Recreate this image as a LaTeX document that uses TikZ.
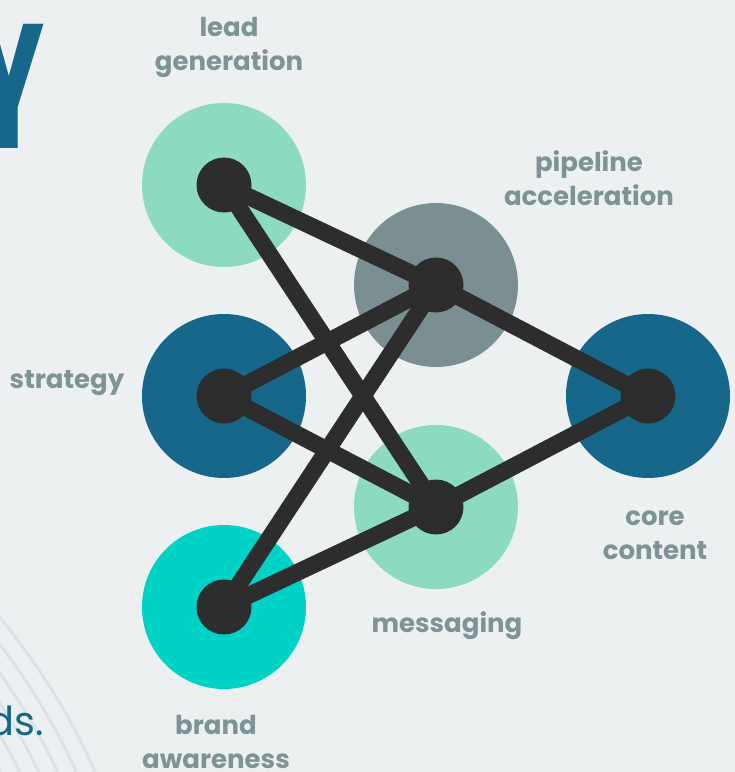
\documentclass[tikz,border=0pt]{standalone}
\usepackage{fontspec}
\setmainfont{Poppins}
\definecolor{bgcol}{HTML}{ECF0F1}
\definecolor{leadgreen}{HTML}{8DDBBF}
\definecolor{pipegray}{HTML}{7B8F93}
\definecolor{deepblue}{HTML}{17678A}
\definecolor{brandcyan}{HTML}{00D2C5}
\definecolor{hubdark}{HTML}{2D2D2D}
\definecolor{labelgray}{HTML}{7E9396}
\definecolor{arccol}{HTML}{DCE3E5}
\begin{document}
\begin{tikzpicture}[x=1pt,y=-1pt,
  lbl/.style={font=\fontsize{26}{34}\selectfont\bfseries, text=labelgray, align=center, inner sep=0pt, anchor=base},
  disc/.style={circle, minimum size=164pt, inner sep=0pt, draw=none},
  hub/.style={circle, fill=hubdark, minimum size=55pt, inner sep=0pt},
  link/.style={draw=hubdark, line width=17pt},
  arcline/.style={draw=arccol, line width=3pt}]
\useasboundingbox (0,0) rectangle (735,772);
\clip (0,0) rectangle (735,772);
\fill[bgcol] (0,0) rectangle (735,772);
% faint background arcs
\foreach \r in {570,587,604,621,638,655}
  \draw[arcline] (-505,1035) circle[radius=\r];
% title fragments
\node[font=\fontsize{177}{177}\selectfont\bfseries, text=deepblue, anchor=base east, inner sep=0pt, xscale=0.6] (bigY) at (45,148) {Y};
\node[font=\fontsize{40}{40}\selectfont, text=deepblue, anchor=base east, inner sep=0pt] (dsText) at (44,735) {ds.};
% discs
\node[disc, fill=leadgreen] (lead) at (224,185) {};
\node[disc, fill=pipegray] (pipe) at (436,285) {};
\node[disc, fill=deepblue] (strat) at (224,396) {};
\node[disc, fill=deepblue] (core) at (648,396) {};
\node[disc, fill=leadgreen] (mess) at (436,507) {};
\node[disc, fill=brandcyan] (brand) at (224,607) {};
% links
\draw[link] (lead.center) -- (pipe.center);
\draw[link] (lead.center) -- (mess.center);
\draw[link] (pipe.center) -- (strat.center);
\draw[link] (pipe.center) -- (core.center);
\draw[link] (pipe.center) -- (brand.center);
\draw[link] (strat.center) -- (mess.center);
\draw[link] (mess.center) -- (core.center);
\draw[link] (mess.center) -- (brand.center);
% hubs
\node[hub] (leadH) at (lead.center) {};
\node[hub] (pipeH) at (pipe.center) {};
\node[hub] (stratH) at (strat.center) {};
\node[hub] (coreH) at (core.center) {};
\node[hub] (messH) at (mess.center) {};
\node[hub] (brandH) at (brand.center) {};
% labels (anchor=base is the baseline of the last line)
\node[lbl] (leadL) at (229,70) {lead\\generation};
\node[lbl] (pipeL) at (589,205) {pipeline\\acceleration};
\node[lbl] (stratL) at (67,388) {strategy};
\node[lbl] (coreL) at (655,559) {core\\content};
\node[lbl] (messL) at (447,632) {messaging};
\node[lbl] (brandL) at (216,768) {brand\\awareness};
\end{tikzpicture}
\end{document}
